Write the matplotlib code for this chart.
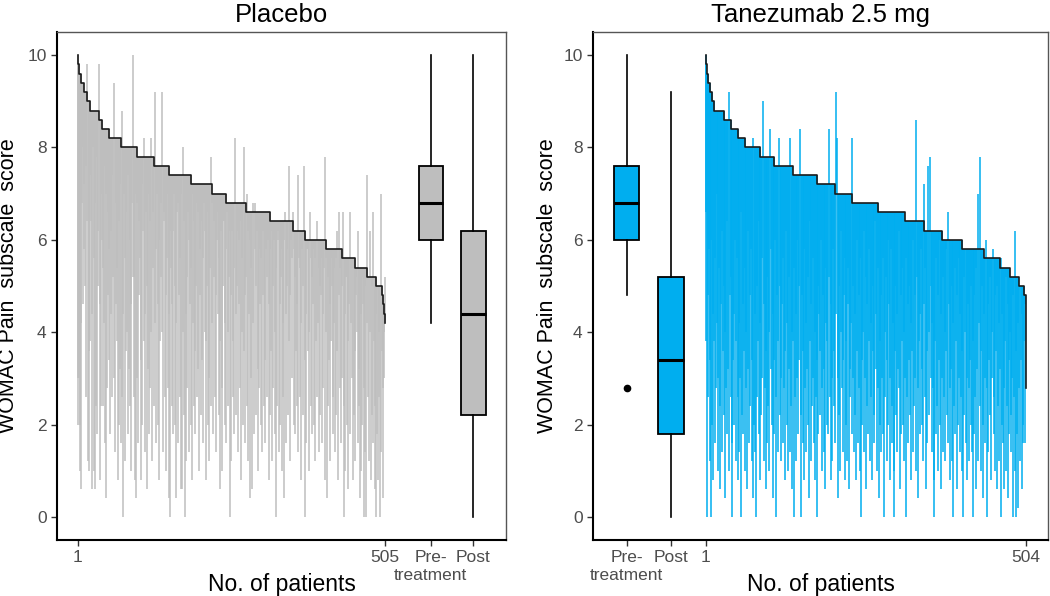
import numpy as np
import matplotlib
matplotlib.use("Agg")
from matplotlib import pyplot as plt

plt.rcParams['font.family'] = ['Liberation Sans', 'DejaVu Sans']

# baseline (pre-treatment) scores, sorted high to low: level and number of patients
placebo_levels = [10.0, 9.8, 9.6, 9.4, 9.2, 9.0, 8.8, 8.6, 8.4, 8.2, 8.0, 7.8, 7.6, 7.4, 7.2,
                  7.0, 6.8, 6.6, 6.4, 6.2, 6.0, 5.8, 5.6, 5.4, 5.2, 5.0, 4.8, 4.6, 4.4, 4.2]
placebo_counts = [1, 2, 3, 4, 6, 5, 15, 4, 12, 19, 26, 29, 24, 36, 34,
                  24, 32, 40, 37, 21, 34, 26, 21, 20, 15, 10, 2, 1, 1, 1]

tanez_levels = [10.0, 9.8, 9.6, 9.4, 9.2, 9.0, 8.8, 8.6, 8.4, 8.2, 8.0, 7.8, 7.6, 7.4,
                7.2, 7.0, 6.8, 6.6, 6.4, 6.2, 6.0, 5.8, 5.6, 5.4, 5.2, 5.0, 4.8, 2.8]
tanez_counts = [1, 1, 2, 3, 4, 3, 15, 11, 11, 11, 24, 22, 29, 38,
                28, 28, 40, 42, 30, 29, 31, 34, 25, 16, 14, 9, 2, 1]

# post-treatment score of each patient, same order as the baseline
placebo_post = [
    2.0, 3.0, 3.0, 2.0, 1.0, 0.6, 4.2, 6.8, 8.0, 4.6, 5.8, 7.2, 5.0, 2.6, 7.6, 6.4, 9.8, 1.2, 3.6, 1.0,
    3.8, 7.4, 6.4, 0.6, 4.4, 8.0, 5.6, 1.0, 0.6, 6.8, 2.4, 7.8, 1.8, 5.0, 6.2, 9.8, 0.8, 4.6, 2.4, 6.0,
    7.0, 5.4, 2.4, 4.2, 1.6, 7.6, 0.4, 7.0, 2.8, 4.8, 6.6, 5.8, 3.4, 1.8, 4.4, 6.2, 2.6, 7.4, 5.2, 3.0,
    9.4, 1.4, 4.6, 6.8, 5.4, 3.8, 0.8, 6.4, 2.0, 7.2, 3.2, 1.6, 8.8, 2.6, 0.0, 4.4, 7.0, 5.6, 1.2, 3.6,
    6.6, 4.0, 1.8, 7.4, 3.2, 2.4, 6.0, 4.6, 1.0, 6.8, 5.2, 10.0, 2.6, 5.2, 0.8, 0.4, 7.0, 3.0, 6.8, 1.6,
    4.8, 6.4, 5.6, 3.4, 0.8, 7.2, 2.0, 6.2, 3.8, 8.2, 1.4, 4.4, 6.6, 5.0, 0.6, 3.2, 7.0, 1.8, 6.4, 2.8,
    4.0, 8.2, 1.2, 6.6, 5.4, 2.4, 9.2, 4.2, 1.6, 5.8, 7.0, 2.0, 4.6, 6.0, 0.8, 3.8, 6.8, 5.2, 4.0, 9.2,
    1.4, 6.4, 6.6, 2.6, 4.8, 1.0, 7.0, 5.6, 2.8, 0.4, 4.4, 6.2, 0.0, 5.4, 2.4, 4.6, 1.8, 6.2, 7.0, 2.0,
    5.0, 0.4, 4.2, 6.6, 6.8, 1.6, 4.8, 2.6, 5.6, 7.0, 0.6, 0.6, 8.0, 4.0, 2.2, 6.4, 0.0, 1.2, 4.4, 5.2,
    2.8, 6.6, 1.4, 6.0, 4.6, 2.0, 5.4, 7.0, 0.8, 4.2, 6.4, 2.4, 3.6, 1.8, 5.0, 6.8, 2.6, 6.6, 3.2, 1.0,
    4.8, 5.8, 2.2, 6.4, 3.4, 1.6, 5.6, 6.8, 4.0, 6.2, 0.8, 3.8, 5.0, 2.0, 6.6, 1.2, 3.0, 5.4, 2.4, 7.8,
    6.8, 4.2, 1.8, 6.4, 5.2, 2.6, 4.8, 1.4, 6.6, 6.0, 4.4, 2.2, 5.6, 0.6, 3.8, 6.2, 2.8, 1.0, 5.0, 6.4,
    6.4, 2.0, 4.2, 1.6, 5.8, 6.6, 4.0, 2.4, 5.2, 0.0, 6.2, 1.2, 4.8, 6.2, 2.6, 3.8, 5.4, 1.8, 8.2, 4.4,
    2.2, 5.0, 6.2, 1.4, 4.6, 6.0, 2.8, 6.4, 0.8, 5.6, 4.0, 2.0, 8.0, 3.6, 1.6, 4.8, 5.2, 7.0, 2.4, 6.2,
    1.2, 4.4, 6.0, 0.4, 5.4, 3.0, 0.6, 6.8, 4.2, 1.8, 5.8, 6.8, 2.2, 5.0, 6.2, 1.0, 3.2, 5.8, 2.8, 4.6,
    2.0, 5.6, 6.2, 1.4, 4.8, 2.4, 6.2, 3.4, 1.6, 5.8, 5.2, 2.6, 6.0, 0.8, 4.6, 5.8, 2.2, 3.6, 1.2, 6.2,
    5.0, 2.8, 6.0, 1.8, 4.0, 0.0, 5.4, 2.4, 6.2, 6.0, 1.4, 4.6, 2.0, 5.2, 5.8, 1.0, 4.2, 2.6, 0.4, 6.0,
    6.6, 4.4, 1.6, 5.8, 5.0, 2.2, 7.6, 3.8, 1.2, 4.8, 6.0, 5.6, 3.0, 6.6, 2.0, 5.8, 1.8, 5.2, 3.6, 2.4,
    4.6, 7.4, 1.4, 5.6, 5.4, 2.6, 4.2, 0.8, 5.8, 5.0, 2.2, 7.6, 3.4, 0.0, 4.4, 1.6, 5.8, 5.8, 3.6, 1.0,
    4.0, 6.6, 2.4, 5.6, 5.2, 1.8, 4.6, 2.0, 5.8, 5.6, 1.2, 3.8, 2.6, 6.4, 4.2, 1.4, 5.4, 5.0, 2.2, 4.8,
    5.6, 1.6, 4.4, 2.8, 5.4, 0.8, 7.8, 5.6, 4.0, 0.4, 2.4, 5.2, 3.4, 1.2, 4.6, 5.6, 3.8, 5.0, 1.8, 2.6,
    4.2, 5.4, 1.4, 5.6, 2.2, 6.2, 3.6, 0.8, 4.8, 6.6, 2.8, 5.4, 1.6, 3.0, 5.0, 6.6, 0.0, 2.4, 4.4, 1.0,
    5.2, 5.2, 2.0, 3.8, 0.6, 4.6, 6.6, 1.8, 5.4, 4.2, 3.0, 0.8, 5.4, 2.2, 3.6, 1.2, 4.8, 5.2, 4.0, 1.6,
    6.2, 3.2, 2.4, 0.4, 4.4, 1.0, 5.2, 2.0, 4.6, 0.0, 2.8, 5.0, 1.4, 0.0, 4.2, 7.4, 2.6, 5.2, 1.2, 6.2,
    4.0, 0.8, 2.2, 5.0, 1.6, 6.6, 3.8, 0.6, 2.4, 0.0, 4.4, 1.8, 5.0, 0.8, 2.6, 4.0, 0.0, 7.0, 1.4, 3.6,
    2.8, 0.4, 3.0, 4.0, 5.2,
]

tanez_post = [
    6.6, 3.8, 0.0, 4.8, 2.6, 5.8, 1.2, 3.4, 0.0, 6.0, 2.0, 4.4, 0.8, 3.8, 5.6, 1.6, 2.8, 7.0, 4.2, 1.0,
    3.0, 5.4, 0.6, 2.4, 4.6, 6.2, 1.4, 3.6, 2.2, 5.0, 0.4, 4.0, 2.8, 6.4, 1.8, 3.2, 9.2, 1.0, 4.8, 2.6,
    5.2, 1.6, 0.0, 3.4, 4.4, 2.0, 6.0, 1.2, 3.8, 5.6, 0.8, 2.6, 4.2, 1.4, 3.0, 6.6, 0.0, 2.2, 4.6, 1.8,
    3.6, 5.4, 1.0, 2.8, 4.0, 0.6, 6.2, 3.2, 1.6, 4.8, 2.4, 5.8, 1.2, 3.4, 0.4, 8.2, 2.0, 4.4, 1.4, 0.0,
    5.0, 2.6, 3.8, 1.8, 6.4, 0.8, 4.2, 2.2, 3.0, 5.6, 9.0, 1.2, 4.6, 2.8, 0.6, 3.6, 5.2, 1.6, 2.4, 4.0,
    1.0, 8.4, 3.2, 5.8, 2.0, 4.4, 0.4, 3.4, 1.8, 6.0, 0.0, 2.6, 4.8, 1.4, 3.8, 8.2, 2.2, 5.0, 1.2, 3.0,
    4.6, 1.6, 5.6, 2.8, 0.8, 3.6, 6.2, 2.0, 4.2, 1.0, 3.2, 5.2, 8.2, 1.4, 2.4, 4.0, 0.6, 3.8, 0.0, 5.4,
    2.6, 1.2, 4.4, 3.0, 6.0, 1.8, 3.4, 5.0, 8.4, 2.2, 0.0, 4.8, 1.6, 3.6, 5.8, 0.8, 2.8, 4.2, 1.4, 3.2,
    5.2, 2.0, 0.4, 3.8, 6.4, 1.2, 4.6, 2.4, 3.0, 5.6, 1.6, 4.0, 0.8, 2.6, 3.4, 0.0, 5.0, 1.8, 4.4, 2.2,
    3.6, 6.0, 1.0, 2.8, 4.8, 1.4, 3.2, 5.4, 0.6, 4.2, 2.0, 3.8, 1.8, 8.4, 5.2, 2.6, 0.8, 4.6, 3.0, 1.2,
    5.8, 2.4, 3.6, 1.6, 9.2, 4.4, 8.2, 0.4, 3.0, 5.0, 2.2, 1.0, 4.0, 6.2, 2.8, 1.4, 3.4, 4.8, 0.8, 5.6,
    2.0, 3.8, 1.2, 4.6, 5.4, 0.6, 3.2, 2.6, 4.2, 1.8, 8.2, 3.0, 5.0, 1.4, 4.4, 2.2, 0.8, 6.0, 3.6, 1.6,
    4.8, 2.8, 5.6, 1.0, 0.0, 3.4, 2.0, 4.0, 6.2, 1.4, 3.0, 5.2, 0.6, 2.4, 4.6, 1.8, 3.8, 5.8, 1.2, 2.6,
    4.2, 0.8, 3.6, 5.0, 2.2, 1.6, 6.4, 3.2, 4.4, 1.0, 2.8, 5.4, 0.4, 3.8, 2.0, 4.8, 1.4, 3.0, 5.6, 1.8,
    0.0, 4.0, 2.6, 5.2, 1.2, 3.4, 6.0, 2.0, 4.6, 0.8, 3.0, 5.8, 1.6, 2.4, 4.2, 1.0, 0.0, 3.6, 5.0, 2.2,
    4.4, 1.4, 3.2, 6.2, 2.8, 0.6, 4.8, 1.8, 3.8, 5.4, 2.0, 1.2, 4.0, 3.0, 5.6, 0.0, 2.6, 4.6, 1.6, 3.4,
    5.0, 2.2, 0.8, 4.2, 3.6, 1.4, 6.0, 2.4, 3.0, 4.8, 8.6, 1.0, 5.2, 2.8, 0.4, 3.8, 1.8, 4.4, 5.8, 2.0,
    3.2, 1.2, 4.6, 7.2, 2.6, 5.4, 0.6, 3.6, 1.6, 7.6, 4.0, 2.2, 7.8, 3.0, 5.0, 1.4, 4.2, 2.8, 0.8, 0.0,
    3.8, 5.6, 1.8, 2.4, 4.8, 1.0, 3.4, 6.0, 2.0, 4.4, 0.6, 3.0, 5.2, 1.4, 2.6, 4.0, 1.2, 3.6, 5.8, 2.2,
    6.6, 1.6, 4.6, 2.8, 0.8, 3.2, 5.0, 1.2, 0.0, 4.2, 2.4, 5.4, 1.8, 3.8, 0.6, 4.8, 2.0, 3.0, 5.6, 1.4,
    4.4, 2.6, 3.6, 1.0, 0.0, 5.2, 2.2, 4.0, 1.6, 5.8, 3.0, 0.8, 4.6, 2.8, 1.2, 3.4, 5.0, 2.0, 1.4, 0.0,
    3.8, 4.8, 1.8, 2.6, 5.4, 0.6, 3.2, 7.0, 1.2, 4.2, 2.4, 7.8, 3.6, 1.0, 5.0, 2.0, 0.4, 4.4, 3.0, 1.6,
    6.0, 0.0, 2.8, 4.6, 1.4, 3.4, 5.2, 2.2, 0.8, 4.0, 3.0, 5.8, 1.8, 2.6, 4.8, 1.0, 3.6, 0.6, 5.0, 2.4,
    4.2, 1.2, 3.2, 0.0, 5.6, 2.0, 4.4, 1.6, 2.8, 0.6, 3.8, 5.2, 1.0, 2.4, 4.6, 0.4, 3.4, 1.8, 4.0, 2.2,
    1.4, 3.0, 0.0, 4.8, 2.6, 1.0, 6.2, 0.0, 3.6, 1.8, 4.2, 0.2, 2.8, 5.0, 1.2, 3.4, 0.6, 4.4, 2.0, 1.6,
    3.8, 1.6, 4.6, 2.8,
]

# box plot summaries: lower whisker, Q1, median, Q3, upper whisker
placebo_pre_box = [4.2, 6.0, 6.8, 7.6, 10.0]
placebo_post_box = [0.0, 2.2, 4.4, 6.2, 10.0]
tanez_pre_box = [4.8, 6.0, 6.8, 7.6, 10.0]
tanez_pre_outliers = [2.8]
tanez_post_box = [0.0, 1.8, 3.4, 5.2, 9.2]

grey = '#BEBEBE'
blue = '#00AEEF'


def box_stats(vals, fliers=()):
    return dict(whislo=vals[0], q1=vals[1], med=vals[2], q3=vals[3], whishi=vals[4],
                fliers=list(fliers))


def draw_panel(ax, levels, counts, post, boxes, box_pos, color, title, n_label, x_lim):
    base = np.repeat(levels, counts)
    post = np.array(post)
    x = np.arange(1, len(base) + 1)
    ax.vlines(x, np.minimum(base, post), np.maximum(base, post), color=color, lw=1.1)
    ax.step(x, base, where='mid', color='#1A1A1A', lw=1.2)

    ax.bxp(boxes, positions=box_pos, widths=40, patch_artist=True, showcaps=False,
           boxprops=dict(facecolor=color, edgecolor='black', linewidth=1.3),
           medianprops=dict(color='black', linewidth=2.2),
           whiskerprops=dict(color='black', linewidth=1.2),
           flierprops=dict(marker='o', markerfacecolor='black', markeredgecolor='black',
                           markersize=4.5))

    ticks = [1, len(base)] + list(box_pos)
    labels = ['1', n_label, 'Pre-\ntreatment', 'Post']
    order = np.argsort(ticks)
    ax.set_xticks([ticks[i] for i in order])
    ax.set_xticklabels([labels[i] for i in order])
    ax.set_yticks([0, 2, 4, 6, 8, 10])
    ax.set_xlim(x_lim)
    ax.set_ylim(-0.5, 10.5)

    ax.set_title(title, fontsize=18.5, pad=7.5)
    ax.set_xlabel('No. of patients', fontsize=16.5)
    ax.set_ylabel('WOMAC Pain  subscale  score', fontsize=15.5)
    ax.xaxis.set_label_coords(0.5, -0.064)

    ax.tick_params(length=4, width=1, color='#333333', labelcolor='#4D4D4D', labelsize=12.5)
    for side in ['left', 'bottom']:
        ax.spines[side].set_linewidth(1.5)
        ax.spines[side].set_color('black')
    for side in ['top', 'right']:
        ax.spines[side].set_linewidth(1.0)
        ax.spines[side].set_color('#555555')


fig = plt.figure(figsize=(10.5, 5.96), dpi=100)
ax1 = fig.add_axes([57 / 1050, 56 / 596, 449 / 1050, 508 / 596])
ax2 = fig.add_axes([593 / 1050, 56 / 596, 455 / 1050, 508 / 596])

draw_panel(ax1, placebo_levels, placebo_counts, placebo_post,
           [box_stats(placebo_pre_box), box_stats(placebo_post_box)], [580, 650],
           grey, 'Placebo', '505', (-33, 703.5))
ax1.yaxis.set_label_coords(-0.084, 0.5)

draw_panel(ax2, tanez_levels, tanez_counts, tanez_post,
           [box_stats(tanez_pre_box, tanez_pre_outliers), box_stats(tanez_post_box)], [-123, -53.5],
           blue, 'Tanezumab 2.5 mg', '504', (-176, 538.5))
ax2.yaxis.set_label_coords(-0.077, 0.5)

fig.savefig('out.png', dpi=100)
plt.close(fig)
